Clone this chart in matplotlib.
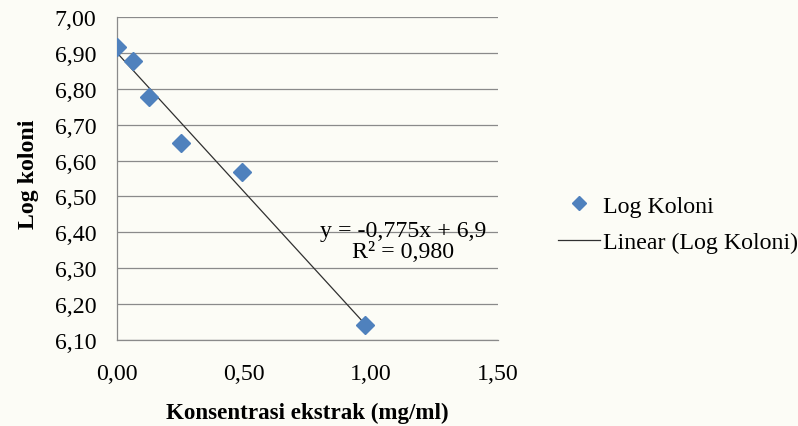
import numpy as np
import matplotlib
matplotlib.use("Agg")
import matplotlib.pyplot as plt
from matplotlib.lines import Line2D

# data
konsentrasi = [0.0, 0.0625, 0.125, 0.25, 0.49, 0.975]
log_koloni = [6.917, 6.877, 6.778, 6.649, 6.568, 6.14]

# trendline as printed on the chart
slope = -0.775
intercept = 6.9
r2 = 0.980

x_ticks = [0.0, 0.5, 1.0, 1.5]
y_ticks = [6.1, 6.2, 6.3, 6.4, 6.5, 6.6, 6.7, 6.8, 6.9, 7.0]

BLUE = "#4f81bd"
GRID = "#8a8a8a"
BG = "#fcfcf6"

plt.rcParams["font.family"] = ["Liberation Serif", "DejaVu Serif"]
FS = 17.2

fig = plt.figure(figsize=(7.98, 4.27), dpi=100, facecolor=BG)
ax = fig.add_axes([117.3 / 798, 1 - 340.7 / 427, (498 - 117.3) / 798, (340.7 - 18.3) / 427])
ax.set_facecolor(BG)

# scatter + linear trend
ax.plot(konsentrasi, log_koloni, linestyle="none", marker="D", markersize=9.5,
        color=BLUE, markeredgecolor=BLUE, zorder=3)
xs = np.array([min(konsentrasi), max(konsentrasi)])
ax.plot(xs, slope * xs + intercept, color="#303030", lw=0.9, zorder=2)

ax.set_xlim(0, 1.5)
ax.set_ylim(6.1, 7.0)
ax.set_xticks(x_ticks)
ax.set_yticks(y_ticks)
ax.set_xticklabels([f"{v:.2f}".replace(".", ",") for v in x_ticks], fontsize=FS)
ax.set_yticklabels([f"{v:.2f}".replace(".", ",") for v in y_ticks], fontsize=FS)
ax.tick_params(axis="both", length=0)
ax.tick_params(axis="y", pad=15)
ax.tick_params(axis="x", pad=17)

ax.grid(axis="y", color=GRID, lw=0.9)
ax.set_axisbelow(True)
for side in ("top", "right"):
    ax.spines[side].set_visible(False)
for side in ("left", "bottom"):
    ax.spines[side].set_color(GRID)
    ax.spines[side].set_linewidth(0.9)

ax.set_xlabel("Konsentrasi ekstrak (mg/ml)", fontsize=FS - 0.6, fontweight="bold")
ax.set_ylabel("Log koloni", fontsize=FS, fontweight="bold")
ax.xaxis.set_label_coords(0.5, -0.192)
ax.yaxis.set_label_coords(-0.205, 0.517)

eq = f"y = {slope:.3f}x + {intercept:g}".replace(".", ",")
eq += "\n" + f"R² = {r2:.3f}".replace(".", ",")
ax.text(0.75, 0.306, eq, transform=ax.transAxes, ha="center", va="center",
        fontsize=FS, multialignment="center", linespacing=0.95)

handles = [
    Line2D([], [], linestyle="none", marker="D", markersize=7, color=BLUE),
    Line2D([], [], color="#303030", lw=0.9),
]
fig.legend(handles, ["Log Koloni", "Linear (Log Koloni)"], loc="center left",
           bbox_to_anchor=(558 / 798, 1 - 225 / 427), frameon=False, fontsize=FS,
           handlelength=1.75, handletextpad=0.12, labelspacing=0.62, borderpad=0,
           borderaxespad=0)

fig.savefig("out.png", dpi=100, facecolor=BG)
